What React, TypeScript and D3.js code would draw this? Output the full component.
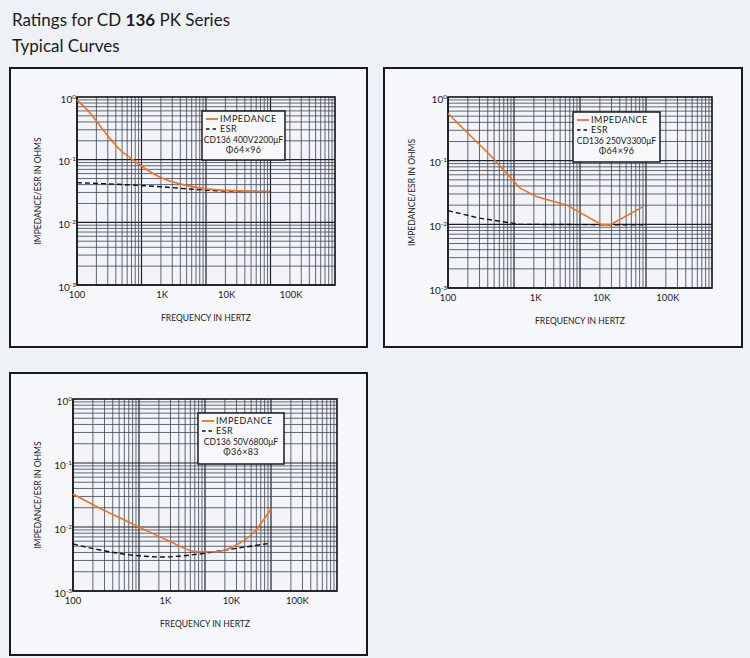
import React from "react";
import * as d3 from "d3";

// axis ticks
const xTicks = [100, 1000, 10000, 100000];
const xTickLabels = ["100", "1K", "10K", "100K"];
const yTicks = [1, 0.1, 0.01, 0.001];
const yTickExps = ["0", "-1", "-2", "-3"];

// CD136 400V2200uF  [freq Hz, ohms]
const imp400: [number, number][] = [
	[100, 0.9], [159, 0.557], [253, 0.3], [464, 0.144], [852, 0.09], [1212, 0.069],
	[2000, 0.052], [4400, 0.04], [14800, 0.033], [98000, 0.031],
];
const esr400: [number, number][] = [
	[100, 0.043], [1355, 0.038], [14800, 0.032], [98000, 0.031],
];

// CD136 250V3300uF
const imp250: [number, number][] = [
	[100, 0.55], [433, 0.123], [1234, 0.037], [2240, 0.027], [6330, 0.02],
	[21600, 0.0098], [28500, 0.0098], [90000, 0.019],
];
const esr250: [number, number][] = [
	[100, 0.0164], [300, 0.0125], [1234, 0.01], [90000, 0.0098],
];

// CD136 50V6800uF
const imp50: [number, number][] = [
	[100, 0.0328], [257, 0.0196], [811, 0.0111], [2656, 0.00626], [7560, 0.00411],
	[15200, 0.00411], [26500, 0.00492], [53300, 0.00797], [100000, 0.0191],
];
const esr50: [number, number][] = [
	[100, 0.00542], [257, 0.00437], [1000, 0.00355], [2200, 0.0034], [7560, 0.00375],
	[26500, 0.00456], [100000, 0.0056],
];

const FONT = "Lato, 'DejaVu Sans', sans-serif";
const ORANGE = "#f2701f";

type Box = { x: number; y: number; w: number; h: number };

function Chart(props: {
	box: Box;
	plot: { l: number; r: number; t: number; b: number };
	legend: Box;
	imp: [number, number][];
	esr: [number, number][];
	part: string;
	size: string;
	linear?: boolean;
	labelShift: number;
}) {
	const { box, plot, legend, imp, esr, part, size, linear, labelShift } = props;
	const x = d3.scaleLog().domain([100, 1000000]).range([plot.l, plot.r]);
	const y = d3.scaleLog().domain([0.001, 1]).range([plot.b, plot.t]);

	const vLines: { v: number; major: boolean }[] = [];
	for (const d of [100, 1000, 10000, 100000]) {
		for (let k = 1; k <= 9; k++) vLines.push({ v: d * k, major: k === 1 });
	}
	const hLines: { v: number; major: boolean }[] = [];
	for (const d of [0.001, 0.01, 0.1]) {
		for (let k = 1; k <= 9; k++) hLines.push({ v: d * k, major: k === 1 });
	}

	const line = d3
		.line<[number, number]>()
		.x((d) => x(d[0]))
		.y((d) => y(d[1]))
		.curve(linear ? d3.curveLinear : d3.curveMonotoneX);

	const midX = (plot.l + plot.r) / 2;
	const midY = (plot.t + plot.b) / 2;

	return (
		<g>
			<rect x={box.x} y={box.y} width={box.w} height={box.h} fill="#f5f7fa" stroke="#1a1a1a" strokeWidth={2} />
			<rect x={plot.l} y={plot.t} width={plot.r - plot.l} height={plot.b - plot.t} fill="#f2f4f8" />
			{vLines.map((g, i) => (
				<line key={"v" + i} x1={x(g.v)} x2={x(g.v)} y1={plot.t} y2={plot.b}
					stroke={g.major ? "#1e2230" : "#3c4254"} strokeWidth={g.major ? 1.2 : 0.8} />
			))}
			{hLines.map((g, i) => (
				<line key={"h" + i} y1={y(g.v)} y2={y(g.v)} x1={plot.l} x2={plot.r}
					stroke={g.major ? "#1e2230" : "#3c4254"} strokeWidth={g.major ? 1.2 : 0.8} />
			))}
			<rect x={plot.l} y={plot.t} width={plot.r - plot.l} height={plot.b - plot.t} fill="none" stroke="#111" strokeWidth={1.6} />

			<path d={line(esr) || ""} fill="none" stroke="#111" strokeWidth={1.4} strokeDasharray="5,3" />
			<path d={line(imp) || ""} fill="none" stroke={ORANGE} strokeWidth={1.6} />

			{yTicks.map((t, i) => (
				<text key={"yt" + i} x={plot.l - 1} y={y(t) + 2} dy="0.35em" textAnchor="end" fontSize={10} fontFamily={FONT} fill="#222">
					10<tspan dy="-4" fontSize={6.5}>{yTickExps[i]}</tspan>
				</text>
			))}
			{xTicks.map((t, i) => (
				<text key={"xt" + i} x={x(i === 0 ? t : t * Math.pow(10, labelShift))} y={plot.b + 13} textAnchor="middle" fontSize={9.5} fontFamily={FONT} fill="#222">
					{xTickLabels[i]}
				</text>
			))}
			<text x={midX} y={plot.b + 36} textAnchor="middle" fontSize={8.5} fontFamily={FONT} fill="#222">
				FREQUENCY IN HERTZ
			</text>
			<text transform={`translate(${box.x + 31},${midY}) rotate(-90)`} textAnchor="middle" fontSize={8.5} fontFamily={FONT} fill="#222">
				IMPEDANCE/ESR IN OHMS
			</text>

			<rect x={legend.x} y={legend.y} width={legend.w} height={legend.h} fill="#f7f8fb" stroke="#1a1a1a" strokeWidth={1.5} />
			<line x1={legend.x + 4} x2={legend.x + 16} y1={legend.y + 8} y2={legend.y + 8} stroke={ORANGE} strokeWidth={1.8} />
			<text x={legend.x + 18} y={legend.y + 11} fontSize={9} letterSpacing={0.5} fontFamily={FONT} fill="#222">IMPEDANCE</text>
			<line x1={legend.x + 4} x2={legend.x + 16} y1={legend.y + 18} y2={legend.y + 18} stroke="#111" strokeWidth={1.4} strokeDasharray="3.5,3" />
			<text x={legend.x + 18} y={legend.y + 21} fontSize={9} letterSpacing={0.5} fontFamily={FONT} fill="#222">ESR</text>
			<text x={legend.x + legend.w / 2} y={legend.y + 32} textAnchor="middle" fontSize={8.5} fontFamily={FONT} fill="#222">{part}</text>
			<text x={legend.x + legend.w / 2} y={legend.y + 42} textAnchor="middle" fontSize={9} letterSpacing={0.3} fontFamily={FONT} fill="#222">{size}</text>
		</g>
	);
}

export default function App() {
	return (
		<svg width={750} height={658} style={{ position: "absolute", left: 0, top: 0, background: "#eef2f7" }}>
			<text x={12} y={26} fontSize={17} fontFamily={FONT} fill="#1a1a1a">
				Ratings for CD <tspan fontWeight="bold">136</tspan> PK Series
			</text>
			<text x={12} y={52} fontSize={17} fontFamily={FONT} fill="#1a1a1a">Typical Curves</text>

			<Chart
				box={{ x: 10, y: 68, w: 357, h: 279 }}
				plot={{ l: 77, r: 335, t: 97, b: 285 }}
				legend={{ x: 202, y: 111, w: 83, h: 49 }}
				imp={imp400}
				esr={esr400}
				part="CD136 400V2200μF"
				size="Φ64×96"
				labelShift={0.32}
			/>
			<Chart
				box={{ x: 384, y: 68, w: 358, h: 279 }}
				plot={{ l: 448, r: 712, t: 97, b: 288 }}
				legend={{ x: 573, y: 112, w: 87, h: 50 }}
				imp={imp250}
				esr={esr250}
				part="CD136 250V3300μF"
				size="Φ64×96"
				linear
				labelShift={0.33}
			/>
			<Chart
				box={{ x: 10, y: 373, w: 357, h: 282 }}
				plot={{ l: 73, r: 337, t: 399, b: 591 }}
				legend={{ x: 198, y: 413, w: 86, h: 51 }}
				imp={imp50}
				esr={esr50}
				part="CD136 50V6800μF"
				size="Φ36×83"
				labelShift={0.4}
			/>
		</svg>
	);
}
